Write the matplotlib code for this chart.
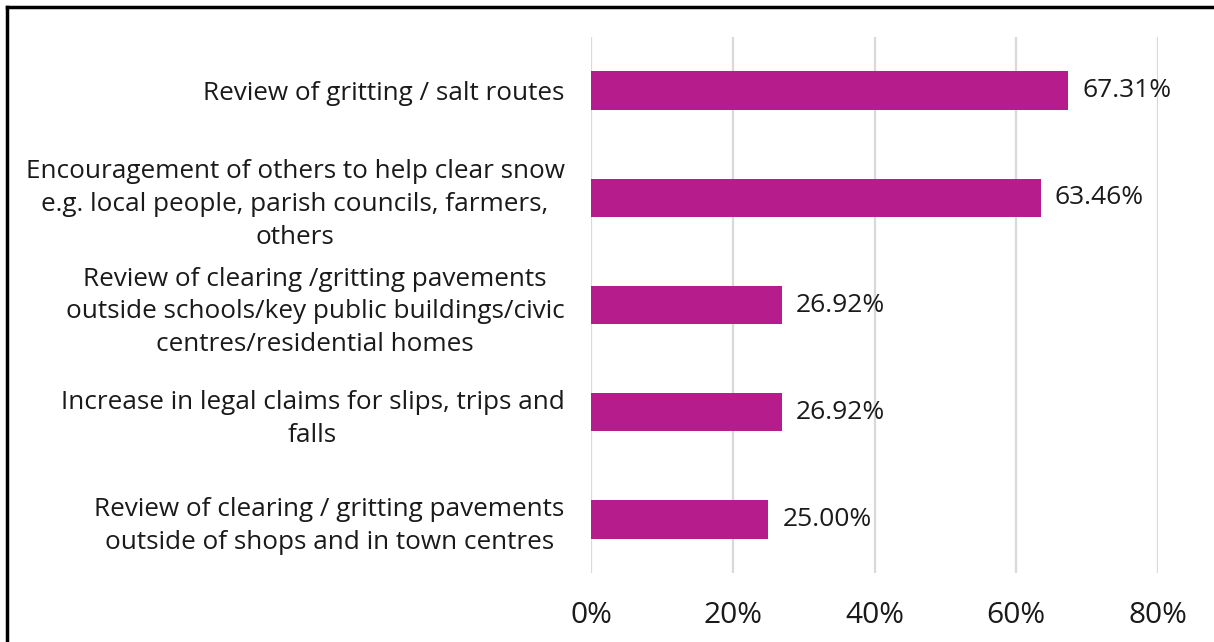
import matplotlib.pyplot as plt
from matplotlib.lines import Line2D

categories = [
    "Review of gritting / salt routes",
    "Encouragement of others to help clear snow\ne.g. local people, parish councils, farmers,\nothers",
    "Review of clearing /gritting pavements\noutside schools/key public buildings/civic\ncentres/residential homes",
    "Increase in legal claims for slips, trips and\nfalls",
    "Review of clearing / gritting pavements\noutside of shops and in town centres",
]
values = [67.31, 63.46, 26.92, 26.92, 25.00]
tick_values = [0, 20, 40, 60, 80]
tick_labels = ["0%", "20%", "40%", "60%", "80%"]

plt.rcParams['font.family'] = ['Open Sans', 'DejaVu Sans']

fig = plt.figure(figsize=(12.14, 6.42), dpi=100)
ax = fig.add_axes([591 / 1214, 1 - 573 / 642, (1158 - 591) / 1214, (573 - 37) / 642])

ypos = list(range(len(categories)))
ax.barh(ypos, values, height=0.36, color='#B71C8C', zorder=3)
for y, v in zip(ypos, values):
    ax.text(v + 2.0, y, f"{v:.2f}%", va='center', ha='left', fontsize=19, color='#1a1a1a', zorder=4)

ax.set_xlim(0, 80)
ax.set_ylim(len(categories) - 0.5, -0.5)
ax.set_yticks(ypos)
ax.set_yticklabels(categories, fontsize=18.8, color='#1a1a1a')
for lab in ax.get_yticklabels():
    lab.set_multialignment('center')
    lab.set_linespacing(1.42)
ax.set_xticks(tick_values)
ax.set_xticklabels(tick_labels, fontsize=21.5, color='#1a1a1a')
ax.tick_params(axis='both', length=0)
ax.tick_params(axis='y', pad=19)
ax.tick_params(axis='x', pad=20)
ax.grid(axis='x', color='#D9D9D9', linewidth=1.6, zorder=0)
for s in ax.spines.values():
    s.set_visible(False)

# frame around the chart (cropped at right and bottom)
fig.add_artist(Line2D([7 / 1214, 1], [1 - 7 / 642, 1 - 7 / 642], color='black', linewidth=2.5, transform=fig.transFigure))
fig.add_artist(Line2D([7 / 1214, 7 / 1214], [0, 1 - 7 / 642], color='black', linewidth=2.5, transform=fig.transFigure))

fig.savefig('out.png', dpi=100)
